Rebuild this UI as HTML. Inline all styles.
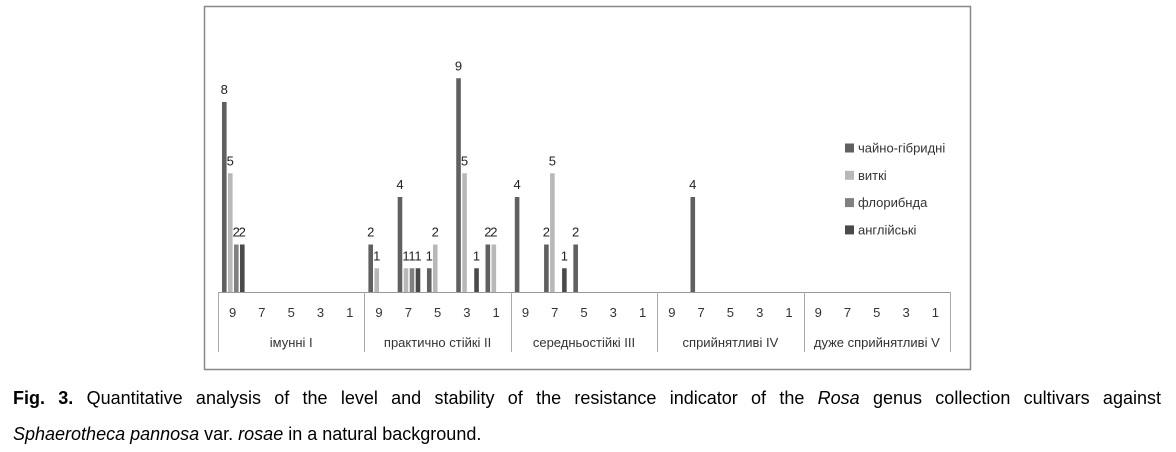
<!DOCTYPE html>
<html><head><meta charset="utf-8">
<style>
body{margin:0;background:#fff;width:1176px;height:445px;overflow:hidden;font-family:"Liberation Sans","DejaVu Sans",sans-serif;}
#cap{position:absolute;left:13px;top:380px;width:1148px;font-size:18px;line-height:36px;color:#000;}
#cap .l1{text-align:justify;text-align-last:justify;white-space:nowrap;}
#cap .l1 span{display:block;text-align:justify;text-align-last:justify;}
</style></head><body>
<svg id="chart" width="1176" height="378" style="position:absolute;left:0;top:0" font-family="Liberation Sans, DejaVu Sans, sans-serif"></svg>
<div id="cap"><div style="text-align:justify;text-align-last:justify;"><b>Fig. 3.</b> Quantitative analysis of the level and stability of the resistance indicator of the <i>Rosa</i> genus collection cultivars against</div><div><i>Sphaerotheca pannosa</i> var. <i>rosae</i> in a natural background.</div></div>
<script>
const groups = ["імунні I","практично стійкі II","середньостійкі III","сприйнятливі IV","дуже сприйнятливі V"];
const subcats = ["9","7","5","3","1"];
const seriesNames = ["чайно-гібридні","виткі","флорибнда","англійські"];
const seriesColors = ["#606060","#b8b8b8","#808080","#4a4a4a"];
const s1 = [8,0,0,0,0, 2,4,1,9,2, 4,2,2,0,0, 0,4,0,0,0, 0,0,0,0,0];
const s2 = [5,0,0,0,0, 1,1,2,5,2, 0,5,0,0,0, 0,0,0,0,0, 0,0,0,0,0];
const s3 = [2,0,0,0,0, 0,1,0,0,0, 0,0,0,0,0, 0,0,0,0,0, 0,0,0,0,0];
const s4 = [2,0,0,0,0, 0,1,0,1,0, 0,1,0,0,0, 0,0,0,0,0, 0,0,0,0,0];
const series = [s1,s2,s3,s4];

const NS="http://www.w3.org/2000/svg";
const svg=document.getElementById('chart');
function mk(t,a,p){const e=document.createElementNS(NS,t);for(const k in a)e.setAttribute(k,a[k]);(p||svg).appendChild(e);return e;}
const x0=218,x1=950,base=292,unit=23.75;
const nCat=groups.length*subcats.length;
const cw=(x1-x0)/nCat;
const xCat=i=>x0+i*cw;
const yv=v=>base-v*unit;

const frame=mk('rect',{x:204.5,y:6.5,width:766,height:363,fill:'none',stroke:'#888','stroke-width':1.5});



const ax=mk('line',{x1:x0,y1:base+0.5,x2:x1,y2:base+0.5,stroke:'#999'});


for(let g=0;g<=groups.length;g++){
  const x=Math.round(xCat(g*subcats.length))+0.5;
  const l=mk('line',{x1:x,y1:base,x2:x,y2:352,stroke:'#aaa'});
  
  
}
for(let i=0;i<nCat;i++){
  const t=mk('text',{x:xCat(i)+cw/2,y:317,'font-size':13,fill:'#333','text-anchor':'middle'});
  t.textContent=subcats[i%subcats.length];
  
  
}
groups.forEach((g,gi)=>{
  const t=mk('text',{x:xCat(gi*5)+cw*2.5,y:347,'font-size':13,fill:'#333','text-anchor':'middle'});
  t.textContent=g;
  
  
});
const bw=4.6,pitch=6,off=4;
series.forEach((arr,si)=>{
  arr.forEach((v,i)=>{
    if(!v)return;
    const x=xCat(i)+off+si*pitch;
    const r=mk('rect',{x:x,y:yv(v),width:bw,height:base-yv(v),fill:seriesColors[si]});
    
    
    const t=mk('text',{x:x+bw/2,y:yv(v)-8,'font-size':13,fill:'#222','text-anchor':'middle'});
    t.textContent=v;
    
    
  });
});
seriesNames.forEach((n,i)=>{
  const y=148+i*27.3;
  const r=mk('rect',{x:845,y:y-4.5,width:9,height:9,fill:seriesColors[i]});
  
  
  const t=mk('text',{x:858,y:y+4.5,'font-size':13,fill:'#333'});
  t.textContent=n;
  
  
});
</script>
</body></html>
